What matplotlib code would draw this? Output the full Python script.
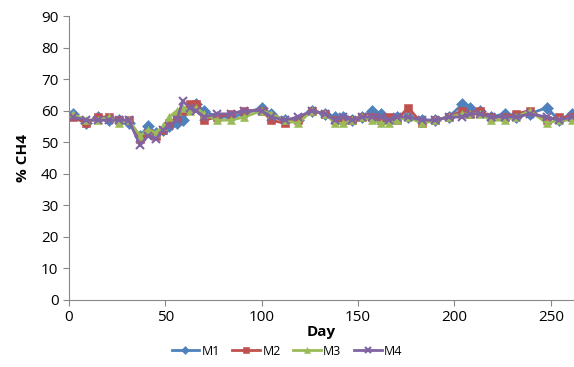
import matplotlib.pyplot as plt

days = [2, 9, 15, 21, 26, 31, 37, 41, 45, 49, 52, 56, 59, 63, 66, 70, 77, 84, 91,
        100, 105, 112, 119, 126, 133, 138, 142, 147, 152, 157, 162, 166, 170, 176,
        183, 190, 197, 204, 208, 213, 219, 226, 232, 239, 248, 254, 261]

m1 = [59, 56, 58, 57, 57, 56, 52, 55, 53, 54, 55, 56, 57, 61, 62, 60, 58, 58, 59,
      61, 59, 57, 57, 60, 59, 58, 58, 57, 58, 60, 59, 57, 58, 58, 57, 57, 58, 62,
      61, 60, 58, 59, 58, 59, 61, 57, 59]
m2 = [58, 56, 58, 58, 57, 57, 51, 53, 52, 54, 56, 58, 60, 62, 62, 57, 58, 59, 60,
      60, 57, 56, 57, 60, 59, 57, 57, 57, 58, 58, 57, 58, 57, 61, 56, 57, 58, 60,
      59, 60, 58, 58, 59, 60, 57, 58, 58]
m3 = [59, 57, 57, 58, 56, 57, 52, 54, 53, 55, 58, 60, 61, 60, 61, 59, 57, 57, 58,
      60, 59, 57, 56, 60, 59, 56, 56, 57, 58, 57, 56, 56, 57, 58, 56, 57, 58, 59,
      59, 59, 57, 57, 58, 60, 56, 57, 57]
m4 = [58, 57, 57, 57, 57, 57, 49, 52, 51, 54, 55, 57, 63, 61, 60, 58, 59, 59, 60,
      60, 58, 57, 58, 60, 59, 57, 58, 57, 58, 58, 58, 57, 58, 58, 57, 57, 58, 58,
      59, 59, 58, 58, 58, 59, 58, 57, 58]

series = [("M1", m1, "#4F81BD", "D"), ("M2", m2, "#C0504D", "s"),
          ("M3", m3, "#9BBB59", "^"), ("M4", m4, "#8064A2", "x")]

plt.rcParams['font.family'] = ['Open Sans', 'DejaVu Sans']

fig = plt.figure(figsize=(5.74, 3.67), dpi=100)
ax = fig.add_axes([0.12, 0.183, 0.88, 0.773])

for name, vals, col, mk in series:
    ax.plot(days, vals, color=col, marker=mk, markersize=6, linewidth=2,
            markeredgewidth=1.5 if mk == "x" else 0.4, label=name)

ax.set_xlim(0, 262)
ax.set_ylim(0, 90)
ax.set_yticks(range(0, 91, 10))
ax.set_xticks(range(0, 251, 50))
ax.tick_params(labelsize=11, color="#888888", length=4)
for s in ["top", "right"]:
    ax.spines[s].set_visible(False)
for s in ["left", "bottom"]:
    ax.spines[s].set_color("#888888")

ax.set_xlabel("Day", fontsize=11, fontweight="bold", labelpad=0)
ax.set_ylabel("% CH4", fontsize=11, fontweight="bold", labelpad=8)

fig.legend(loc="lower center", bbox_to_anchor=(0.5, -0.005), ncol=4, frameon=False,
           fontsize=9, handlelength=2.2, columnspacing=1.0, handletextpad=0.2,
           markerscale=0.7)

fig.savefig("out.png", dpi=100)
